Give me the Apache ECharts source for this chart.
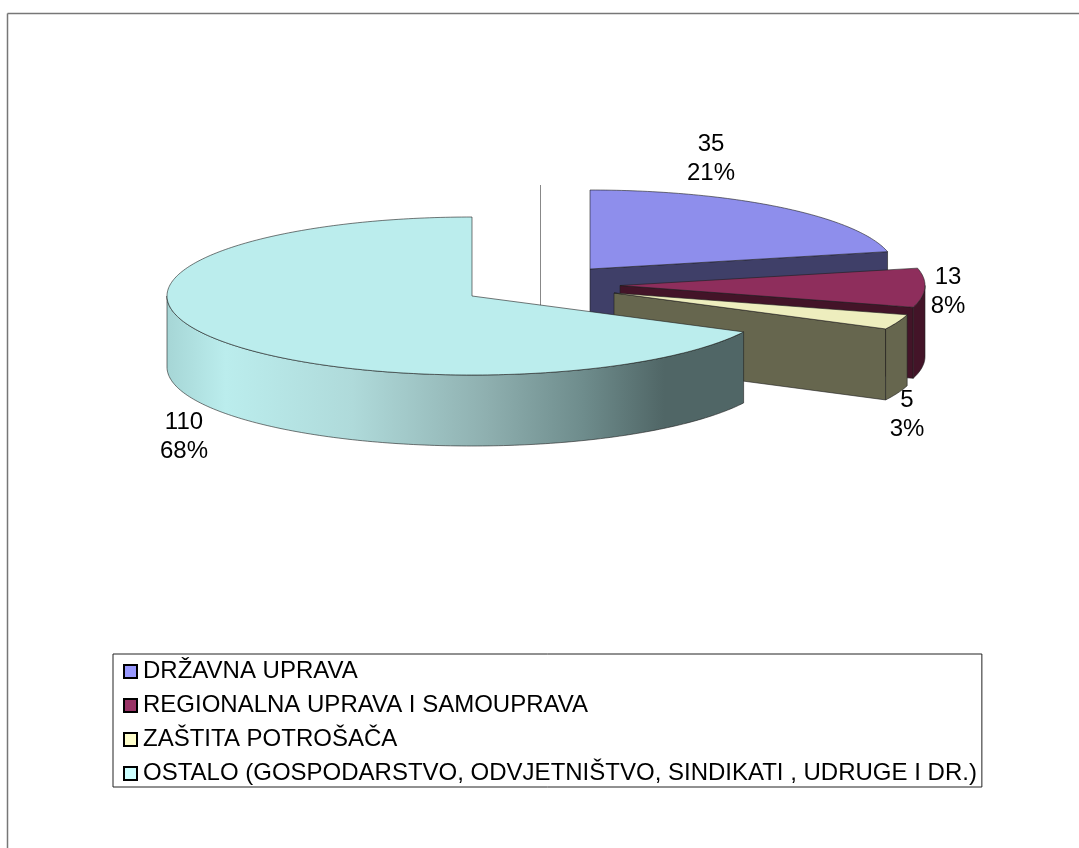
<!DOCTYPE html>
<html>
<head>
<meta charset="utf-8">
<style>html,body{margin:0;padding:0;background:#fff}#c{width:1079px;height:848px}</style>
<script src="https://cdn.jsdelivr.net/npm/echarts@6/dist/echarts.min.js"></script>
</head>
<body>
<div id="c"></div>
<script>
// ---- data ----
const categories = [
  'DRŽAVNA UPRAVA',
  'REGIONALNA UPRAVA I SAMOUPRAVA',
  'ZAŠTITA POTROŠAČA',
  'OSTALO (GOSPODARSTVO, ODVJETNIŠTVO, SINDIKATI , UDRUGE I DR.)'
];
const values = [35, 13, 5, 110];
const percents = ['21%', '8%', '3%', '68%'];

// ---- styles ----
const legendColors = ['#9999FF', '#993366', '#FFFFCC', '#CCFFFF'];
const topColors = ['#8E8EEC', '#8E2E5C', '#EEEEBE', '#BBEDED'];
const wallColors = ['#3F3F68', '#431428', '#66664E', null];
const FONT = '"Liberation Sans", Arial, sans-serif';

// ---- layout of the exploded 3D pie ----
const RX = 305, RY = 79, DEPTH = 71;
const sliceCenters = [[590, 269], [620, 285.5], [614, 293], [472, 296]];
const labelCenters = [[711, 159], [948, 292], [907, 415], [184, 437]];

const total = values.reduce((a, b) => a + b, 0);
const startAngles = [];
values.reduce((acc, v, i) => { startAngles[i] = acc; return acc + v / total * 360; }, 0);

function pt(c, deg, dy) {
  const r = deg * Math.PI / 180;
  return [c[0] + RX * Math.sin(r), c[1] - RY * Math.cos(r) + (dy || 0)];
}
function arc(c, a0, a1, dy) {
  const pts = [], n = Math.max(2, Math.ceil(Math.abs(a1 - a0)));
  for (let k = 0; k <= n; k++) pts.push(pt(c, a0 + (a1 - a0) * k / n, dy));
  return pts;
}
const EDGE = 'rgba(30,30,30,0.75)';
const wallGradient = {
  type: 'linear', global: true, x: 168, y: 0, x2: 745, y2: 0,
  colorStops: [
    { offset: 0, color: '#A6D6D6' }, { offset: 0.1, color: '#BBEDED' },
    { offset: 0.32, color: '#AFDADA' }, { offset: 0.55, color: '#8FB0B0' },
    { offset: 0.72, color: '#6E8C8C' }, { offset: 0.86, color: '#506666' },
    { offset: 1, color: '#506666' }
  ]
};

function renderSlice(idx) {
  return function (params, api) {
    const value = api.value(0);
    const a0 = startAngles[idx], a1 = a0 + value / total * 360;
    const c = sliceCenters[idx];
    const fill = wallColors[idx] || wallGradient;
    const children = [];
    // radial wall on the closing edge (only faces the viewer for the right half)
    if (a1 < 180) {
      const e = pt(c, a1);
      children.push({ type: 'polygon', shape: { points: [c, e, [e[0], e[1] + DEPTH], [c[0], c[1] + DEPTH]] },
        style: { fill: fill, stroke: EDGE, lineWidth: 0.8 } });
    }
    // outer rim wall: front half of the ellipse only
    const w0 = Math.max(a0, 90), w1 = Math.min(a1, 270);
    if (w1 > w0) {
      const upper = arc(c, w0, w1, 0), lower = arc(c, w1, w0, DEPTH);
      children.push({ type: 'polygon', shape: { points: upper.concat(lower) },
        style: { fill: fill, stroke: EDGE, lineWidth: 0.8 } });
    }
    // top face
    children.push({ type: 'polygon', shape: { points: [c].concat(arc(c, a0, a1, 0)) },
      style: { fill: topColors[idx], stroke: EDGE, lineWidth: 0.8 } });
    // data label
    children.push({ type: 'text', x: labelCenters[idx][0], y: labelCenters[idx][1], z2: 20,
      style: { text: value + '\n' + percents[idx], fill: '#000', font: '24px ' + FONT,
        align: 'center', verticalAlign: 'middle', lineHeight: 29 } });
    return { type: 'group', children: children };
  };
}

const chart = echarts.init(document.getElementById('c'), null, { renderer: 'canvas' });
chart.setOption({
  animation: false,
  backgroundColor: '#fff',
  legend: {
    orient: 'vertical', left: 113, top: 654, icon: 'rect',
    itemWidth: 13, itemHeight: 13, itemGap: 9, padding: [5, 5, 1, 10],
    borderColor: '#222', borderWidth: 1, selectedMode: false,
    textStyle: { color: '#000', fontFamily: FONT, fontSize: 24, padding: [0, 0, 0, 1], lineHeight: 25 },
    data: categories.map((n, i) => ({ name: n, itemStyle: { color: legendColors[i], borderColor: '#000', borderWidth: 2 } }))
  },
  graphic: [
    { type: 'line', shape: { x1: 7.5, y1: 13.5, x2: 1079, y2: 13.5 }, style: { stroke: '#777', lineWidth: 1.5 } },
    { type: 'line', shape: { x1: 7.5, y1: 13.5, x2: 7.5, y2: 848 }, style: { stroke: '#777', lineWidth: 1.5 } },
    { type: 'line', shape: { x1: 540.5, y1: 185, x2: 540.5, y2: 310 }, style: { stroke: '#888', lineWidth: 1 } }
  ],
  series: categories.map((name, i) => ({
    type: 'custom', name: name, coordinateSystem: 'none', silent: true,
    z: 2 + i,
    itemStyle: { color: legendColors[i] },
    data: [[values[i]]],
    renderItem: renderSlice(i)
  }))
});
</script>
</body>
</html>
